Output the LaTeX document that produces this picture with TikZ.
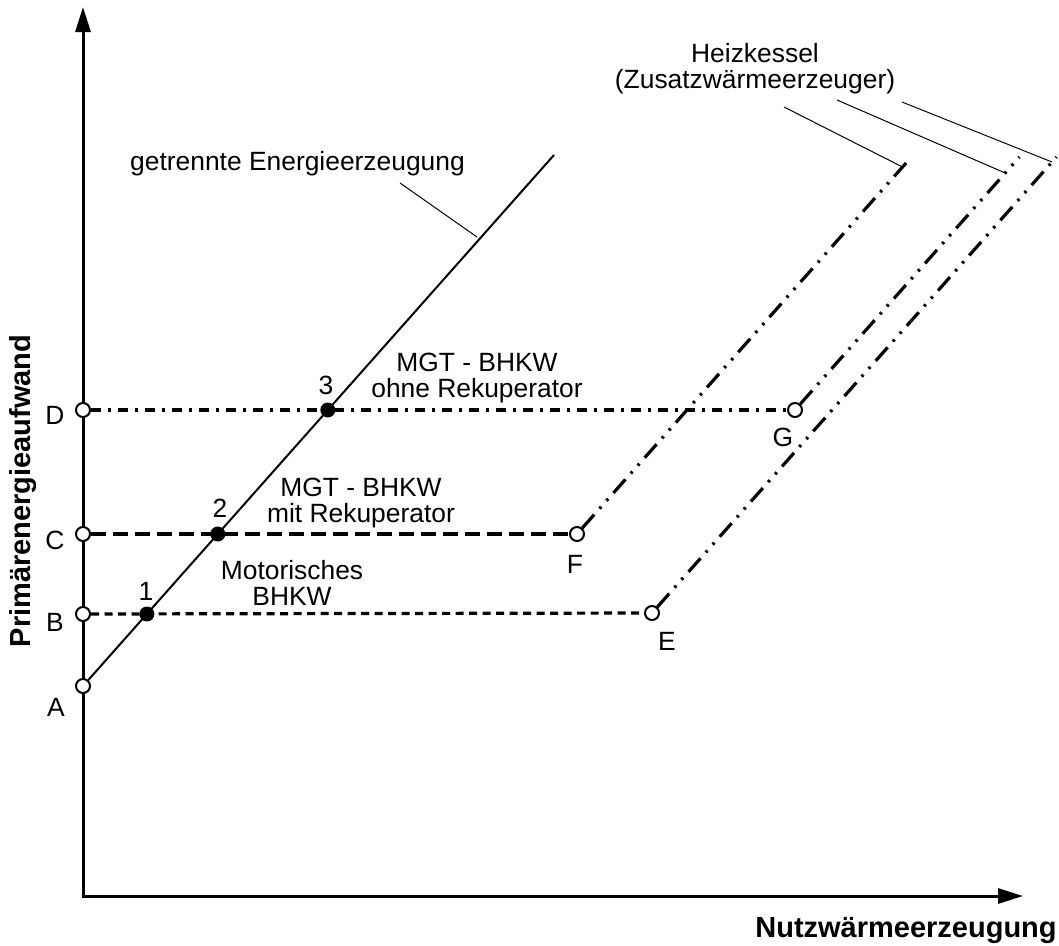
\documentclass[tikz,border=0pt]{standalone}
\usepackage{fontspec}
\setmainfont{Liberation Sans}
\usetikzlibrary{arrows.meta}

\begin{document}
\begin{tikzpicture}[x=1pt,y=-1pt,
  every node/.style={font=\fontsize{26.4}{26}\selectfont, inner sep=0pt},
  axislabel/.style={font=\fontsize{29}{31}\selectfont\bfseries},
  axis/.style={line width=3pt, line join=miter,
    {Triangle[length=25pt,width=15pt]}-{Triangle[length=25pt,width=15pt]}},
  openpt/.style={circle, draw, line width=2pt, fill=white, minimum size=14pt},
  fullpt/.style={circle, fill=black, minimum size=15pt},
  refline/.style={line width=2pt},
  leader/.style={line width=1pt},
  motor/.style={line width=3.2pt, dash pattern=on 8pt off 5.5pt},
  mitrek/.style={line width=3.2pt, dash pattern=on 15pt off 7pt},
  ohnerek/.style={line width=3.2pt, dash pattern=on 10pt off 7pt on 3pt off 7pt},
  kessel/.style={line width=3.2pt, dash pattern=on 18pt off 8pt on 2.5pt off 8pt on 2.5pt off 8pt},
]
\useasboundingbox (0,0) rectangle (1059,945);

% axes
\coordinate (O) at (83,896);
\coordinate (ytip) at (83,7);
\coordinate (xtip) at (1023,896);
\draw[axis] (ytip) -- (O) -- (xtip);

\node[axislabel, rotate=90] (ylab) at (23,491) {Primärenergieaufwand};
\node[axislabel, anchor=base] (xlab) at (906,937) {Nutzwärmeerzeugung};

% operating points on the axis and at the ends of the plant lines
\node[openpt] (A) at (83,686) {};
\node[openpt] (B) at (83,614) {};
\node[openpt] (C) at (83,534) {};
\node[openpt] (D) at (83,410) {};
\node[openpt] (E) at (652,613) {};
\node[openpt] (F) at (577,534) {};
\node[openpt] (G) at (795,410) {};

% separate generation (reference line)
\coordinate (reftop) at (554,155);
\draw[refline] (A) -- (reftop);

% CHP plants
\draw[motor] (B) -- (E);
\draw[mitrek] (C) -- (F);
\draw[ohnerek] (D) -- (G);

% auxiliary boiler lines
\coordinate (Etop) at (1056.5,157);
\coordinate (Ftop) at (911.4,157);
\coordinate (Gtop) at (1019.4,157);
\draw[kessel] (E) -- (Etop);
\draw[kessel] (F) -- (Ftop);
\draw[kessel] (G) -- (Gtop);

% intersections with the reference line
\node[fullpt] (P1) at (146.9,614) {};
\node[fullpt] (P2) at (217.8,534) {};
\node[fullpt] (P3) at (327.8,410) {};

% point labels
\node (labA) at (56,707) {A};
\node (labB) at (55,622) {B};
\node (labC) at (55,540) {C};
\node (labD) at (55,415) {D};
\node (labE) at (667,641) {E};
\node (labF) at (575,564) {F};
\node (labG) at (783,437) {G};
\node (lab1) at (146,591) {1};
\node (lab2) at (220,508) {2};
\node (lab3) at (326,385) {3};

% curve labels
\node[align=center] (tmotor) at (292,583) {Motorisches\\BHKW};
\node[align=center] (tmit) at (361,503) {MGT - BHKW\\mit Rekuperator};
\node[align=center] (tohne) at (477,378) {MGT - BHKW\\ohne Rekuperator};
\node[anchor=base west] (tref) at (130,170) {getrennte Energieerzeugung};
\node[align=center] (tkessel) at (755,69) {Heizkessel\\(Zusatzwärmeerzeuger)};

% leader lines
\coordinate (lr0) at (400,183);
\coordinate (lr1) at (477,237);
\draw[leader] (lr0) -- (lr1);
\coordinate (lk1a) at (784,107);
\coordinate (lk1b) at (902.5,167);
\coordinate (lk2a) at (837,100);
\coordinate (lk2b) at (1005.2,173);
\coordinate (lk3a) at (902,102);
\coordinate (lk3b) at (1052,162);
\draw[leader] (lk1a) -- (lk1b);
\draw[leader] (lk2a) -- (lk2b);
\draw[leader] (lk3a) -- (lk3b);
\end{tikzpicture}
\end{document}
